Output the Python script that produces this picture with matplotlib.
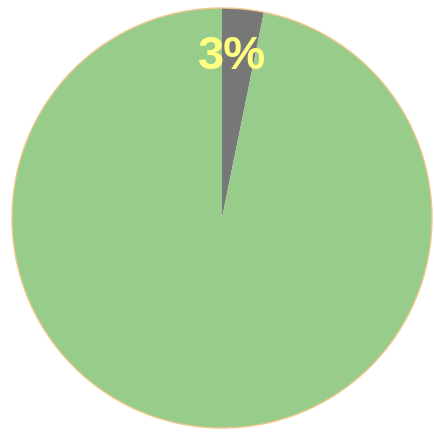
import matplotlib
matplotlib.use("Agg")
import matplotlib.pyplot as plt
from matplotlib.patches import Circle

labels = ["Gray", "Green"]
values = [3.2, 96.8]
colors = ["#777777", "#98cc8b"]
shown = ["3%", ""]

fig = plt.figure(figsize=(4.34, 4.33), dpi=100)
ax = fig.add_axes([0, 0, 1, 1])
R = 210.0
cx, cy = 222.0, 433 - 218.0

idx = iter(range(len(values)))
def fmt(p):
    return shown[next(idx)]

wedges, texts, autotexts = ax.pie(values, colors=colors, startangle=90, counterclock=False,
       autopct=fmt, pctdistance=0.77,
       wedgeprops=dict(edgecolor="none", linewidth=0),
       textprops=dict(color="#ffff80", fontsize=34, fontweight="bold", family="Liberation Sans"))
autotexts[0].set_position((0.05, 0.765))
ax.add_patch(Circle((0, 0), 1.0, fill=False, edgecolor="#f0c88c", linewidth=1.0))
ax.set_xlim(-cx / R, (434 - cx) / R)
ax.set_ylim(-cy / R, (433 - cy) / R)
ax.set_aspect("equal")
ax.axis("off")
fig.savefig("out.png", dpi=100)
